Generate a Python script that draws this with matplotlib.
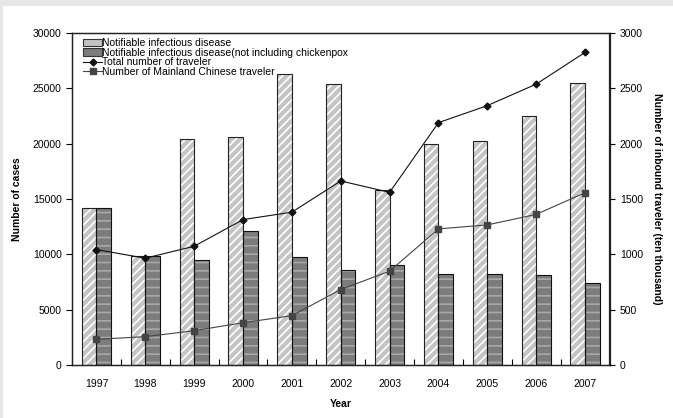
import matplotlib
matplotlib.use("Agg")
import matplotlib.pyplot as plt
import matplotlib.patches as mpatches
from matplotlib.lines import Line2D
import numpy as np

years = ["1997", "1998", "1999", "2000", "2001", "2002", "2003", "2004", "2005", "2006", "2007"]
notifiable = [14200, 9850, 20400, 20600, 26250, 25350, 15800, 20000, 20200, 22500, 25450]
notifiable_no_cp = [14200, 9850, 9500, 12100, 9750, 8620, 9060, 8210, 8210, 8120, 7430]
total_traveler = [1043, 965, 1073, 1314, 1381, 1663, 1560, 2190, 2344, 2538, 2825]
mainland_traveler = [232, 256, 310, 382, 446, 682, 848, 1230, 1266, 1361, 1557]

plt.rcParams['font.family'] = ['Liberation Sans', 'DejaVu Sans']
plt.rcParams['hatch.linewidth'] = 1.2

FS = 7.5
fig = plt.figure(figsize=(6.73, 4.18), dpi=100)
fig.patch.set_facecolor('#e6e6e6')
fig.add_artist(mpatches.Rectangle((3/673, -0.1), 2, 1.1 - 6/418, transform=fig.transFigure,
                                  facecolor='white', edgecolor='none', zorder=0))

ax = fig.add_axes([72/673, 1 - 365/418, (609.5 - 72)/673, (365 - 33)/418])
ax.set_facecolor('none')
x = np.arange(len(years))
w = 0.3

# light bars: fill with white diagonal hatch, then black outline
ax.bar(x - w/2, notifiable, w, color='#c4c4c4', edgecolor='white', hatch='////', linewidth=0, zorder=2)
ax.bar(x - w/2, notifiable, w, fill=False, edgecolor='#222222', linewidth=0.8, zorder=3)
# dark bars
ax.bar(x + w/2, notifiable_no_cp, w, color='#7c7c7c', edgecolor='#a8a8a8', hatch='--', linewidth=0, zorder=2)
ax.bar(x + w/2, notifiable_no_cp, w, fill=False, edgecolor='#111111', linewidth=0.8, zorder=3)

ax.set_xlim(-0.5, len(years) - 0.5)
ax.set_ylim(0, 30000)
ax.set_yticks(np.arange(0, 30001, 5000))
ax.set_xticks(x)
ax.set_xticklabels(years)
ax.set_xticks(np.arange(0.5, len(years) - 1, 1), minor=True)
ax.tick_params(axis='x', which='major', length=0, labelsize=FS, pad=10)
ax.tick_params(axis='x', which='minor', direction='in', length=4, width=0.8)
ax.tick_params(axis='y', direction='out', length=4, width=0.8, labelsize=FS)
for s in ax.spines.values():
    s.set_linewidth(0.9)
    s.set_color('#222222')
ax.set_ylabel('Number of cases', fontsize=FS, fontweight='bold', labelpad=8)
ax.set_xlabel('Year', fontsize=FS, fontweight='bold', labelpad=7)

ax2 = ax.twinx()
ax2.set_ylim(0, 3000)
ax2.set_yticks(np.arange(0, 3001, 500))
ax2.tick_params(axis='y', direction='out', length=4, width=0.8, labelsize=FS)
ax2.plot(x, total_traveler, color='#111111', marker='D', markersize=3.5, linewidth=0.8, zorder=5)
ax2.plot(x, mainland_traveler, color='#444444', marker='s', markersize=5, linewidth=0.8, zorder=5)
ax2.set_ylabel('Number of inbound traveler (ten thousand)', fontsize=FS, fontweight='bold',
               rotation=270, labelpad=14)
for s in ax2.spines.values():
    s.set_linewidth(0.9)
    s.set_color('#222222')

handles = [
    mpatches.Patch(facecolor='#c4c4c4', edgecolor='#333333', linewidth=0.8),
    mpatches.Patch(facecolor='#7c7c7c', edgecolor='#333333', linewidth=0.8),
    Line2D([], [], color='#111111', marker='D', markersize=3.5, linewidth=0.8),
    Line2D([], [], color='#444444', marker='s', markersize=5, linewidth=0.8),
]
labels = ['Notifiable infectious disease',
          'Notifiable infectious disease(not including chickenpox',
          'Total number of traveler',
          'Number of Mainland Chinese traveler']
leg = ax2.legend(handles, labels, loc='upper left', bbox_to_anchor=(6/537.5, 1.0), frameon=False,
                 fontsize=FS, handlelength=1.85, handleheight=0.7, handletextpad=0.0,
                 labelspacing=-0.05, borderaxespad=0.3, borderpad=0.2)

fig.savefig('out.png', dpi=100)
